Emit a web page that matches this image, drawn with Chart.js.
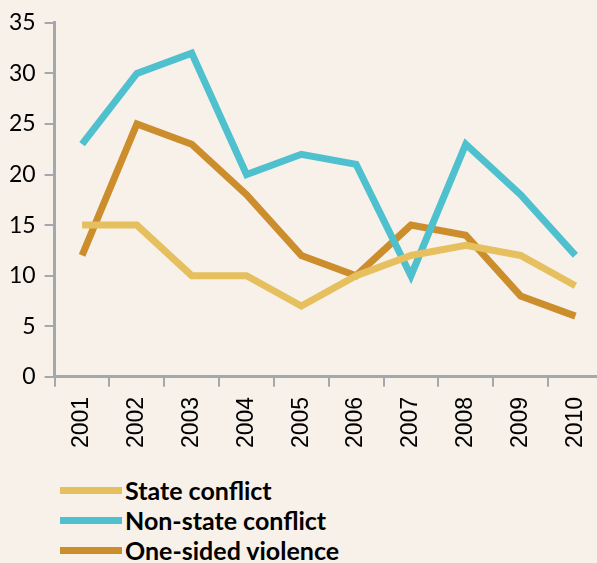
<!DOCTYPE html>
<html>
<head>
<meta charset="utf-8">
<script src="https://cdn.jsdelivr.net/npm/chart.js@4"></script>
<style>
  html, body { margin: 0; padding: 0; background: #f7f1ea; overflow: hidden; }
  #wrap { width: 613px; height: 461px; position: relative; }
  #legend { margin: 14px 0 0 60px; font-family: Lato, 'Open Sans', sans-serif; font-weight: bold; font-size: 25px; color: #000; }
  .item { display: flex; align-items: center; height: 30px; }
  .swatch { width: 62px; height: 7px; margin-right: 3px; }
</style>
</head>
<body>
<div id="wrap"><canvas id="chart"></canvas></div>
<div id="legend"></div>
<script>
// --- data ---
const years = ['2001', '2002', '2003', '2004', '2005', '2006', '2007', '2008', '2009', '2010'];
const stateConflict = [15, 15, 10, 10, 7, 10, 12, 13, 12, 9];
const nonStateConflict = [23, 30, 32, 20, 22, 21, 10, 23, 18, 12];
const oneSidedViolence = [12, 25, 23, 18, 12, 10, 15, 14, 8, 6];
const yTicks = [0, 5, 10, 15, 20, 25, 30, 35];

const axisGrey = '#a4a7ab';

const series = [
    { label: 'State conflict', data: stateConflict, color: '#e6c05f' },
    { label: 'Non-state conflict', data: nonStateConflict, color: '#4fc1ce' },
    { label: 'One-sided violence', data: oneSidedViolence, color: '#cc8e2d' }
];

document.addEventListener('DOMContentLoaded', () => {
    Chart.defaults.font.family = "Lato, 'Open Sans', sans-serif";
    Chart.defaults.color = '#000000';

    const ctx = document.getElementById('chart').getContext('2d');
    new Chart(ctx, {
        type: 'line',
        data: {
            labels: years,
            datasets: series.map(s => ({
                label: s.label,
                data: s.data,
                borderColor: s.color,
                backgroundColor: s.color,
                borderWidth: 7,
                pointRadius: 0,
                tension: 0,
                fill: false
            }))
        },
        options: {
            responsive: true,
            maintainAspectRatio: false,
            animation: false,
            layout: { padding: { top: 10, left: 0, right: 0, bottom: 3 } },
            plugins: {
                legend: { display: false },
                tooltip: { enabled: false }
            },
            scales: {
                x: {
                    offset: true,
                    grid: {
                        offset: true,
                        drawOnChartArea: false,
                        drawTicks: true,
                        tickLength: 10,
                        color: axisGrey,
                        lineWidth: 2
                    },
                    border: { color: axisGrey, width: 3 },
                    ticks: {
                        minRotation: 90,
                        maxRotation: 90,
                        font: { family: "'Liberation Sans', Arial, sans-serif", size: 23 },
                        padding: 10
                    }
                },
                y: {
                    min: 0,
                    max: 35,
                    afterBuildTicks: axis => {
                        axis.ticks = yTicks.map(v => ({ value: v }));
                    },
                    grid: {
                        drawOnChartArea: false,
                        drawTicks: true,
                        tickLength: 10,
                        color: axisGrey,
                        lineWidth: 2
                    },
                    border: { color: axisGrey, width: 3 },
                    ticks: {
                        font: { size: 23 },
                        padding: 9
                    }
                }
            }
        }
    });

    // legend drawn below the chart, one item per row
    const legend = document.getElementById('legend');
    series.forEach(s => {
        const row = document.createElement('div');
        row.className = 'item';
        const sw = document.createElement('span');
        sw.className = 'swatch';
        sw.style.background = s.color;
        const txt = document.createElement('span');
        txt.textContent = s.label;
        row.appendChild(sw);
        row.appendChild(txt);
        legend.appendChild(row);
    });
});
</script>
</body>
</html>
